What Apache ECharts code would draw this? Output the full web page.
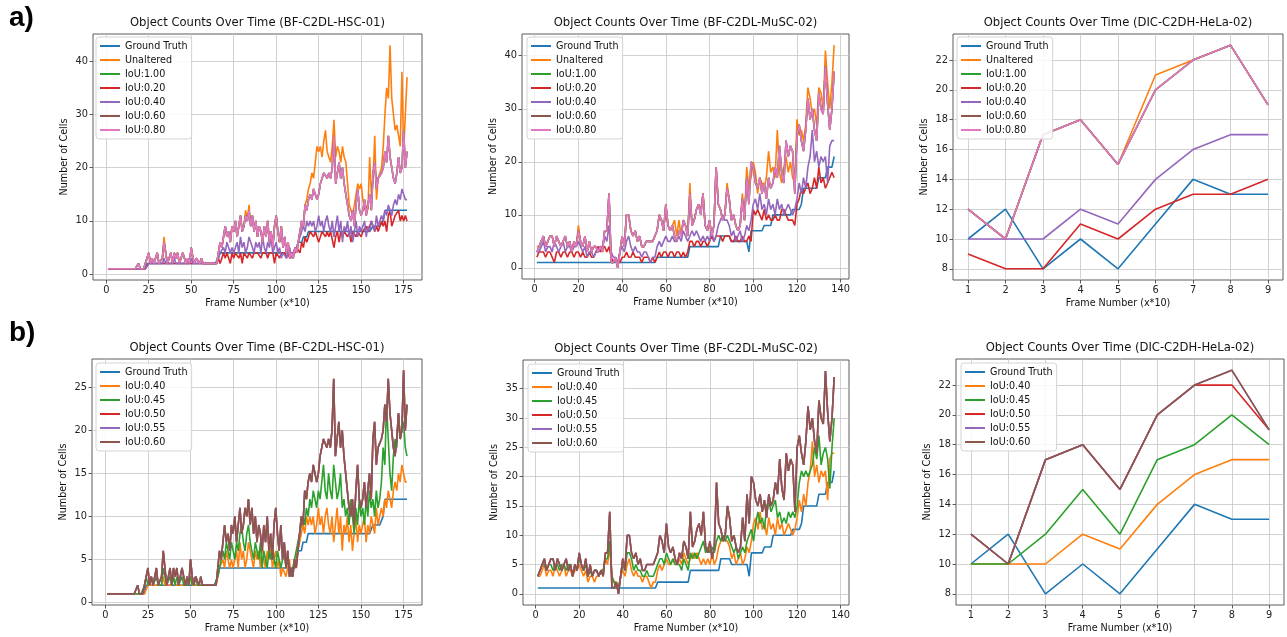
<!DOCTYPE html>
<html>
<head>
<meta charset="utf-8">
<title>Object Counts Over Time</title>
<script src="https://cdn.jsdelivr.net/npm/echarts/dist/echarts.min.js"></script>
<style>
  html, body { margin: 0; padding: 0; background: #fff; }
  #chart { width: 1287px; height: 637px; }
</style>
</head>
<body>
<div id="chart"></div>
<script>
// ---- BF-C2DL-HSC-01, frames 1..177 ----
const hscGT = [
  1,1,1,1,1,1,1,1,1,1, 1,1,1,1,1,1,1,1,1,1, 1,1,1,2,2,2,2,2,2,2,
  2,2,2,2,2,2,2,2,2,2, 2,2,2,2,2,2,2,2,2,2, 2,2,2,2,2,2,2,2,2,2,
  2,2,2,2,2,3,4,4,4,4, 4,4,4,4,4,4,4,4,4,4, 4,4,4,4,4,4,4,4,4,4,
  4,4,4,4,4,4,4,4,4,4, 4,4,4,4,4,4,4,4,4,4, 4,4,6,6,6,7,7,7,8,8,
  8,8,8,8,8,8,8,8,8,8, 8,8,8,8,8,8,8,8,8,8, 8,8,8,8,8,8,8,8,8,8,
  8,8,8,8,8,8,9,9,9,9, 9,9,10,12,12,12,12,12,12,12, 12,12,12,12,12,12,12
];
const hscUnaltered = [
  1,1,1,1,1,1,1,1,1,1, 1,1,1,1,1,1,1,1,2,1, 1,1,2,3,4,2,3,2,3,4,
  2,2,3,7,4,2,3,4,2,4, 3,4,2,3,4,3,2,3,2,5, 3,2,3,3,2,3,2,2,2,2,
  2,2,2,2,2,4,6,5,7,9, 7,8,6,9,8,10,7,9,11,8, 9,12,10,13,9,11,8,10,7,9,
  8,6,9,7,10,6,8,5,9,11, 8,6,9,5,7,4,6,3,4,3, 5,4,6,8,10,9,13,14,16,17,
  19,18,21,24,23,24,22,25,27,23, 22,21,24,29,22,24,23,21,24,22, 21,17,13,12,11,13,15,17,16,17,
  14,12,13,12,22,15,18,26,14,18, 19,20,24,30,35,33,43,33,30,27, 28,28,24,38,23,23,37
];
const hscIou020 = [
  1,1,1,1,1,1,1,1,1,1, 1,1,1,1,1,1,1,1,1,1, 1,1,1,1,2,2,2,2,2,2,
  2,2,2,2,2,2,2,2,2,2, 2,2,2,2,2,2,2,2,2,2, 2,2,2,2,2,2,2,2,2,2,
  2,2,2,2,2,3,2,3,4,3, 4,4,2,4,3,4,4,3,4,2, 4,4,3,4,4,3,4,4,4,4,
  3,4,4,4,3,4,4,4,2,4, 4,3,4,4,4,3,4,3,4,4, 4,5,5,4,6,5,7,6,7,8,
  8,7,8,8,6,7,8,8,7,8, 7,8,8,5,7,8,6,8,7,8, 8,7,8,6,8,8,7,8,8,7,
  8,8,9,8,8,10,9,8,9,8, 8,10,9,10,8,11,12,9,10,11, 11,12,10,11,10,11,10
];
const hscIou040 = [
  1,1,1,1,1,1,1,1,1,1, 1,1,1,1,1,1,1,1,1,1, 1,1,1,1,2,2,2,2,2,2,
  2,2,2,3,2,2,2,2,2,3, 2,2,2,2,2,2,2,2,2,3, 2,2,2,2,2,2,2,2,2,2,
  2,2,2,2,2,3,4,4,5,4, 6,5,4,5,4,5,6,4,7,5, 6,4,5,7,6,5,4,6,5,6,
  4,7,5,4,6,5,7,4,5,6, 4,5,3,4,4,3,4,5,3,4, 4,5,6,7,8,9,8,10,9,10,
  9,10,8,9,11,9,10,8,10,11, 9,8,10,7,9,11,8,10,6,9, 8,10,7,9,6,8,10,7,9,8,
  8,10,7,9,8,10,9,8,11,9, 10,11,10,12,11,13,12,11,13,14, 13,15,14,16,15,14,14
];
const hscIou045 = [
  1,1,1,1,1,1,1,1,1,1, 1,1,1,1,1,1,1,1,1,1, 1,1,2,3,2,2,3,2,2,3,
  2,2,2,4,3,2,2,3,2,3, 2,3,2,2,3,2,2,2,2,3, 2,2,3,2,2,2,2,2,2,2,
  2,2,2,2,2,3,4,5,6,5, 7,6,5,7,6,5,7,6,8,9, 7,6,8,9,7,6,5,7,6,5,
  7,4,6,5,4,6,5,7,5,4, 6,5,4,5,6,4,5,4,3,4, 5,6,7,8,9,10,9,11,10,12,
  11,13,12,11,13,12,14,16,13,12, 15,13,12,16,14,12,13,15,11,12, 10,11,9,12,10,8,11,9,12,10,
  11,9,12,10,13,11,12,10,13,11, 12,14,18,16,23,19,15,13,17,19, 18,22,19,20,21,18,17
];
// IoU:0.50 .. IoU:1.00 lie on top of each other in the reference
const hscIou060 = [
  1,1,1,1,1,1,1,1,1,1, 1,1,1,1,1,1,1,1,2,1, 1,1,2,3,4,2,3,2,3,4,
  2,2,3,6,4,2,3,4,2,4, 3,4,2,3,4,3,2,3,2,5, 3,2,3,3,2,3,2,2,2,2,
  2,2,2,2,2,4,6,5,7,9, 7,8,6,9,8,10,7,9,11,8, 9,11,10,12,9,11,8,10,7,9,
  8,6,9,7,10,6,8,5,9,11, 8,6,9,5,7,4,6,3,4,3, 5,4,6,8,10,9,13,12,14,15,
  14,16,15,14,15,17,18,19,19,18, 19,18,20,26,17,19,21,18,20,17, 15,13,11,10,12,9,13,16,12,11,
  12,14,11,13,15,12,19,21,16,18, 18,19,20,23,21,26,22,20,18,17, 19,22,19,20,27,20,23
];

// ---- BF-C2DL-MuSC-02, frames 1..137 ----
const muscGT = [
  1,1,1,1,1,1,1,1,1,1, 1,1,1,1,1,1,1,1,1,1, 1,1,1,1,1,1,1,1,1,1,
  1,1,1,1,1,1,1,1,1,1, 1,1,1,1,1,1,1,1,1,1, 1,1,1,1,1,2,2,2,2,2,
  2,2,2,2,2,2,2,2,2,2, 4,4,4,4,4,4,4,4,4,4, 4,4,4,4,6,6,6,6,6,5,
  5,5,5,5,5,5,5,3,7,7, 7,7,7,7,8,8,8,8,10,10, 10,10,10,10,10,10,10,11,11,11,
  11,12,15,15,15,15,15,15,15,17, 17,17,17,19,19,19,21
];
const muscUnaltered = [
  4,4,5,6,4,5,6,6,4,6, 5,4,5,6,4,5,3,5,4,8, 5,4,6,3,5,3,4,4,3,4,
  3,7,7,14,1,1,2,0,3,6, 4,10,10,7,6,7,5,6,4,4, 5,5,5,5,6,7,10,9,7,12,
  8,7,8,9,6,9,6,9,8,6, 16,8,9,11,12,11,14,8,7,9, 6,8,19,12,11,9,10,16,13,9,
  10,8,7,8,14,9,19,15,17,20, 18,14,17,16,15,17,22,18,19,17, 26,18,16,19,21,18,20,17,16,28,
  25,26,24,27,34,32,29,30,27,34, 33,30,41,35,30,35,42
];
const muscIou020 = [
  2,3,3,3,2,3,3,2,1,3, 3,2,3,3,2,3,3,2,3,3, 2,3,2,2,3,2,2,3,4,3,
  4,4,3,4,2,1,2,1,1,2, 2,3,2,2,3,2,2,2,1,2, 2,2,1,2,1,2,3,2,3,3,
  2,3,3,2,3,3,2,3,2,3, 5,5,4,5,5,4,5,5,4,5, 6,5,6,6,6,5,6,6,6,5,
  5,6,5,5,6,5,5,6,5,11, 10,11,10,9,11,9,10,9,9,10, 9,9,11,11,10,9,9,9,8,12,
  13,15,14,15,16,14,15,17,15,19, 16,17,15,16,17,18,17
];
const muscIou040 = [
  3,3,4,5,3,4,4,3,5,4, 3,4,5,3,4,4,3,4,4,5, 4,3,4,2,3,3,2,3,3,4,
  4,6,5,8,3,2,2,1,3,4, 3,5,6,4,3,4,3,3,2,3, 3,2,1,2,2,4,5,4,5,6,
  5,5,6,5,5,6,5,7,6,5, 6,7,6,7,6,5,6,5,6,5, 7,5,6,8,9,10,9,9,8,6,
  7,5,6,7,5,6,8,7,9,12, 13,11,14,11,12,10,13,11,12,10, 13,11,12,10,11,12,11,10,11,13,
  16,14,17,15,19,21,26,20,22,19, 21,20,21,16,23,24,24
];
const muscIou045 = [
  3,4,5,5,4,5,5,4,5,5, 4,5,5,4,5,5,3,5,4,6, 5,4,5,3,4,3,4,4,3,4,
  4,6,6,9,3,2,1,1,3,5, 4,7,7,6,4,5,4,4,3,3, 4,3,3,3,4,5,6,6,5,7,
  6,5,6,5,5,5,4,6,5,4, 7,6,7,6,7,8,9,7,8,7, 8,7,9,10,9,10,9,10,9,8,
  7,8,6,7,8,7,9,10,11,9, 12,14,12,13,11,15,16,14,15,16, 13,14,12,13,12,14,13,14,13,15,
  19,21,20,21,20,21,22,25,23,27, 22,24,25,23,18,25,30
];
const muscIou060 = [
  3,4,5,6,4,5,6,6,4,6, 5,4,5,6,4,5,3,5,4,7, 5,4,6,3,5,3,4,4,3,4,
  3,7,7,14,1,1,2,0,3,6, 4,10,10,7,6,7,5,6,4,4, 5,5,5,5,6,7,10,9,7,12,
  8,7,8,6,5,7,6,9,8,6, 14,8,9,11,12,10,14,8,7,9, 6,8,19,12,11,9,10,15,13,9,
  10,8,7,8,13,9,17,12,20,19, 16,15,17,14,16,13,17,15,16,19, 17,23,18,16,24,21,23,22,14,25,
  27,24,22,26,32,28,30,26,24,33, 30,29,38,31,26,30,37
];

// ---- DIC-C2DH-HeLa-02, frames 1..9 ----
const helaGT        = [10, 12, 8, 10, 8, 11, 14, 13, 13];
const helaUnaltered = [12, 10, 17, 18, 15, 21, 22, 23, 19];
const helaIou020    = [9, 8, 8, 11, 10, 12, 13, 13, 14];
const helaIou040    = [10, 10, 10, 12, 11, 14, 16, 17, 17];
const helaIou045    = [10, 10, 12, 15, 12, 17, 18, 20, 18];
const helaIou050    = [12, 10, 17, 18, 15, 20, 22, 22, 19];
const helaIou060    = [12, 10, 17, 18, 15, 20, 22, 23, 19];

// tick labels
const hscTicks  = [0, 25, 50, 75, 100, 125, 150, 175];
const muscTicks = [0, 20, 40, 60, 80, 100, 120, 140];
const helaTicks = [1, 2, 3, 4, 5, 6, 7, 8, 9];
const yTicks40  = [0, 10, 20, 30, 40];
const yTicks25  = [0, 5, 10, 15, 20, 25];
const yTicks35  = [0, 5, 10, 15, 20, 25, 30, 35];
const yTicksHela = [8, 10, 12, 14, 16, 18, 20, 22];

const C = ['#1f77b4', '#ff7f0e', '#2ca02c', '#d62728', '#9467bd', '#8c564b', '#e377c2'];
const FONT = 'DejaVu Sans';

const rowA = (gt, un, i100, i020, i040, i060, i080) => [
  ['Ground Truth', C[0], gt], ['Unaltered', C[1], un], ['IoU:1.00', C[2], i100],
  ['IoU:0.20', C[3], i020], ['IoU:0.40', C[4], i040], ['IoU:0.60', C[5], i060], ['IoU:0.80', C[6], i080]
];
const rowB = (gt, i040, i045, i050, i055, i060) => [
  ['Ground Truth', C[0], gt], ['IoU:0.40', C[1], i040], ['IoU:0.45', C[2], i045],
  ['IoU:0.50', C[3], i050], ['IoU:0.55', C[4], i055], ['IoU:0.60', C[5], i060]
];

const panels = [
  { title: 'Object Counts Over Time (BF-C2DL-HSC-01)', box: [93, 34, 329, 246], legend: [96, 37],
    x: [-7.8, 185.8, hscTicks], y: [-1.1, 45.1, yTicks40],
    lines: rowA(hscGT, hscUnaltered, hscIou060, hscIou020, hscIou040, hscIou060, hscIou060) },
  { title: 'Object Counts Over Time (BF-C2DL-MuSC-02)', box: [522, 34, 327, 245], legend: [527, 37],
    x: [-5.8, 143.8, muscTicks], y: [-2.1, 44.1, yTicks40],
    lines: rowA(muscGT, muscUnaltered, muscIou060, muscIou020, muscIou040, muscIou060, muscIou060) },
  { title: 'Object Counts Over Time (DIC-C2DH-HeLa-02)', box: [953, 34, 330, 246], legend: [957, 37],
    x: [0.6, 9.4, helaTicks], y: [7.25, 23.75, yTicksHela],
    lines: rowA(helaGT, helaUnaltered, helaIou060, helaIou020, helaIou040, helaIou060, helaIou060) },
  { title: 'Object Counts Over Time (BF-C2DL-HSC-01)', box: [92, 359, 330, 246], legend: [96, 363],
    x: [-7.8, 185.8, hscTicks], y: [-0.3, 28.3, yTicks25],
    lines: rowB(hscGT, hscIou040, hscIou045, hscIou060, hscIou060, hscIou060) },
  { title: 'Object Counts Over Time (BF-C2DL-MuSC-02)', box: [523, 360, 326, 245], legend: [528, 364],
    x: [-5.8, 143.8, muscTicks], y: [-1.9, 39.9, yTicks35],
    lines: rowB(muscGT, muscIou040, muscIou045, muscIou060, muscIou060, muscIou060) },
  { title: 'Object Counts Over Time (DIC-C2DH-HeLa-02)', box: [956, 359, 328, 246], legend: [961, 363],
    x: [0.6, 9.4, helaTicks], y: [7.25, 23.75, yTicksHela],
    lines: rowB(helaGT, helaIou040, helaIou045, helaIou050, helaIou060, helaIou060) }
];

const grid = [], xAxis = [], yAxis = [], series = [], legend = [], title = [];
const axisText = { fontFamily: FONT, fontSize: 9.8, color: '#222' };

panels.forEach((p, g) => {
  const [left, top, width, height] = p.box;
  grid.push({ left, top, width, height, show: true, borderColor: '#333', borderWidth: 0.8,
    backgroundColor: 'transparent', containLabel: false });
  title.push({ text: p.title, left: left + width / 2, top: top - 17, textAlign: 'center', padding: 0,
    textStyle: { fontFamily: FONT, fontSize: 11.6, fontWeight: 'normal', color: '#111' } });
  xAxis.push({
    type: 'value', gridIndex: g, min: p.x[0], max: p.x[1],
    name: 'Frame Number (x*10)', nameLocation: 'middle', nameGap: 18,
    nameTextStyle: { fontFamily: FONT, fontSize: 9.6, color: '#111' },
    axisLine: { show: false, onZero: false },
    axisTick: { show: true, length: 3.5, customValues: p.x[2], lineStyle: { color: '#333', width: 0.8 } },
    axisLabel: Object.assign({ customValues: p.x[2], margin: 5 }, axisText),
    splitLine: { show: true, lineStyle: { color: '#c6c6c6', width: 0.8 } }
  });
  yAxis.push({
    type: 'value', gridIndex: g, min: p.y[0], max: p.y[1],
    name: 'Number of Cells', nameLocation: 'middle', nameGap: 24,
    nameTextStyle: { fontFamily: FONT, fontSize: 9.6, color: '#111' },
    axisLine: { show: false, onZero: false },
    axisTick: { show: true, length: 3.5, customValues: p.y[2], lineStyle: { color: '#333', width: 0.8 } },
    axisLabel: Object.assign({ customValues: p.y[2], margin: 5 }, axisText),
    splitLine: { show: true, lineStyle: { color: '#c6c6c6', width: 0.8 } }
  });
  p.lines.forEach(([name, color, values]) => {
    series.push({
      type: 'line', name, xAxisIndex: g, yAxisIndex: g,
      data: values.map((v, i) => [i + 1, v]),
      symbol: 'none', showSymbol: false, clip: true, silent: true,
      lineStyle: { width: 1.6, color }, itemStyle: { color }
    });
  });
  legend.push({
    orient: 'vertical', left: p.legend[0], top: p.legend[1],
    icon: 'rect', itemWidth: 20, itemHeight: 2, itemGap: 2,
    padding: [3, 4, 3, 4], backgroundColor: 'rgba(255,255,255,0.85)',
    borderColor: '#d4d4d4', borderWidth: 1, borderRadius: 3, selectedMode: false,
    textStyle: { fontFamily: FONT, fontSize: 9.6, color: '#111', lineHeight: 12 },
    data: p.lines.map(([name, color]) => ({ name, icon: 'rect', itemStyle: { color } }))
  });
});

const chart = echarts.init(document.getElementById('chart'), null, { renderer: 'canvas' });
chart.setOption({
  animation: false,
  backgroundColor: '#fff',
  title, grid, xAxis, yAxis, legend, series,
  graphic: [
    { type: 'text', left: 9, top: 4, style: { text: 'a)', font: 'bold 28px "Liberation Sans"', fill: '#000' } },
    { type: 'text', left: 9, top: 319, style: { text: 'b)', font: 'bold 28px "Liberation Sans"', fill: '#000' } }
  ]
});
</script>
</body>
</html>
